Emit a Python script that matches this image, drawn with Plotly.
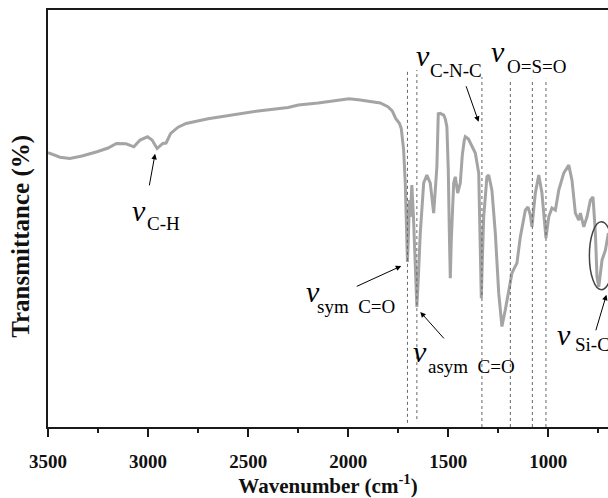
import plotly.graph_objects as go

# FTIR spectrum (wavenumber cm^-1, transmittance a.u. 0-100)
wavenumber = [3500, 3440, 3391, 3330, 3255, 3200, 3158, 3110, 3071, 3040, 3003, 2980, 2955, 2940,
              2926, 2910, 2887, 2850, 2810, 2700, 2577, 2450, 2300, 2249, 2150, 2050, 1996, 1940,
              1880, 1840, 1802, 1780, 1763, 1745, 1735, 1723, 1715, 1707, 1704, 1700, 1694, 1690,
              1682, 1674, 1665, 1657, 1648, 1640, 1623, 1607, 1590, 1573, 1565, 1557, 1550, 1540,
              1523, 1515, 1507, 1500, 1495, 1490, 1485, 1478, 1473, 1465, 1453, 1440, 1430, 1420,
              1415, 1400, 1390, 1365, 1348, 1343, 1335, 1330, 1323, 1307, 1298, 1282, 1265, 1248,
              1232, 1215, 1198, 1182, 1170, 1157, 1140, 1115, 1102, 1090, 1082, 1065, 1048, 1032,
              1020, 1012, 998, 982, 965, 948, 923, 898, 882, 865, 848, 840, 823, 807, 790, 777,
              765, 757, 748, 740, 732, 715, 700]
transmittance = [65.8, 64.7, 64.4, 65.0, 66.0, 66.9, 68.0, 67.9, 67.2, 68.8, 69.6, 68.8, 66.8, 67.4,
                 68.0, 68.1, 70.4, 71.9, 72.8, 73.9, 74.8, 75.8, 76.6, 77.2, 77.7, 78.3, 78.7, 78.4,
                 78.0, 77.7, 76.8, 75.8, 74.0, 72.9, 71.6, 66.4, 58.5, 46.5, 39.6, 44.8, 54.4, 50.4,
                 58.0, 50.4, 40.0, 28.8, 37.6, 46.5, 58.5, 60.4, 58.5, 51.3, 56.8, 62.4, 75.1, 75.2,
                 74.8, 73.9, 72.0, 61.6, 47.2, 35.7, 44.8, 54.4, 58.5, 60.0, 56.1, 58.5, 65.2, 68.8,
                 69.6, 69.1, 68.1, 65.7, 60.9, 50.4, 30.9, 40.0, 50.4, 60.0, 60.4, 56.8, 46.5, 32.1,
                 24.1, 28.1, 32.9, 36.9, 38.1, 39.3, 45.6, 52.0, 52.8, 50.8, 48.0, 56.1, 60.4, 56.1,
                 49.6, 45.3, 50.4, 52.5, 52.0, 56.8, 60.9, 62.8, 59.2, 51.3, 49.6, 51.3, 48.0, 50.4,
                 54.4, 55.2, 46.5, 36.0, 33.6, 37.6, 40.0, 42.4, 46.5]

# dotted reference lines (cm^-1)
guide_wn = [1704, 1657, 1332, 1190, 1080, 1012]
guide_top = [85.6, 85.6, 83.9, 83.5, 83.5, 83.5]
guide_bottom = [1.0, 1.9, 0, 0, 0, 0]

x_ticks = [3500, 3000, 2500, 2000, 1500, 1000]
x_tick_labels = ["3500", "3000", "2500", "2000", "1500", "1000"]

SERIF = "Liberation Serif"

fig = go.Figure()
fig.add_trace(go.Scatter(x=wavenumber, y=transmittance, mode="lines",
                         line=dict(color="#a4a4a4", width=3), showlegend=False,
                         hoverinfo="skip"))

shapes = []
for xv, top, bot in zip(guide_wn, guide_top, guide_bottom):
    shapes.append(dict(type="line", xref="x", yref="y", x0=xv, x1=xv, y0=bot, y1=top,
                       line=dict(color="#666666", width=1, dash="dot")))
# ellipse around Si-C band
shapes.append(dict(type="circle", xref="x", yref="y", x0=795, x1=675, y0=32.9, y1=49.2,
                   line=dict(color="#444444", width=1.5)))

annotations = []
labels = [
    # (v x, v y, sub text, sub x, sub y)
    (3047.5, 51.8, "C-H", 2921.5, 48.7),
    (1627.5, 89.0, "C-N-C", 1460, 85.4),
    (1252.5, 90.0, "O=S=O", 1060, 86.4),
    (2175, 32.4, "sym  C=O", 1961.5, 28.9),
    (1640, 18.1, "asym  C=O", 1385, 14.5),
    (920, 22.1, "Si-C", 777.5, 19.9),
]
for vx, vy, sub, sx, sy in labels:
    annotations.append(dict(x=vx, y=vy, xref="x", yref="y", text="<i>v</i>", showarrow=False,
                            font=dict(family=SERIF, size=30, color="black")))
    annotations.append(dict(x=sx, y=sy, xref="x", yref="y", text=sub.replace("  ", "&nbsp; "),
                            showarrow=False, font=dict(family=SERIF, size=19, color="black")))

arrows = [
    # head x, head y, ax, ay (tail offset px)
    (2965, 65.5, -6, 33),
    (1348.5, 73.2, -13, -37),
    (1735, 38.6, -46, 21),
    (1640, 27.6, 25, 28),
    (710, 31.7, -11, 37),
]
for hx, hy, ax, ay in arrows:
    annotations.append(dict(x=hx, y=hy, xref="x", yref="y", ax=ax, ay=ay, text="",
                            showarrow=True, arrowhead=2, arrowsize=1.1, arrowwidth=1,
                            arrowcolor="black", standoff=0))

# y-axis title (placed as rotated text to match the reference position)
annotations.append(dict(xref="paper", x=0, xshift=-27, xanchor="center",
                        yref="y", y=45.6, yanchor="middle", textangle=-90,
                        text="<b>Transmittance (%)</b>", showarrow=False,
                        font=dict(family=SERIF, size=25, color="#111111")))

fig.update_layout(
    width=608, height=498,
    margin=dict(l=48, r=0, t=10, b=71),
    paper_bgcolor="white", plot_bgcolor="white",
    shapes=shapes, annotations=annotations,
    xaxis=dict(range=[3500, 702], showgrid=False, zeroline=False,
               showline=True, linecolor="#1a1a1a", linewidth=2, mirror=True,
               ticks="outside", ticklen=8, tickwidth=2, tickcolor="#1a1a1a",
               tickvals=x_ticks, ticktext=["<b>%s</b>" % t for t in x_tick_labels],
               ticklabelstandoff=8,
               minor=dict(dtick=250, ticks="outside", ticklen=4, tickwidth=2, tickcolor="#1a1a1a"),
               tickfont=dict(family=SERIF, size=19, color="#111111"),
               title=dict(text="<b>Wavenumber (cm<sup>-1</sup>)</b>", standoff=8,
                          font=dict(family=SERIF, size=21, color="#111111"))),
    yaxis=dict(range=[0, 100], showgrid=False, zeroline=False, showticklabels=False,
               showline=True, linecolor="#1a1a1a", linewidth=2, ticks=""),
)

fig.write_html("out.html")
